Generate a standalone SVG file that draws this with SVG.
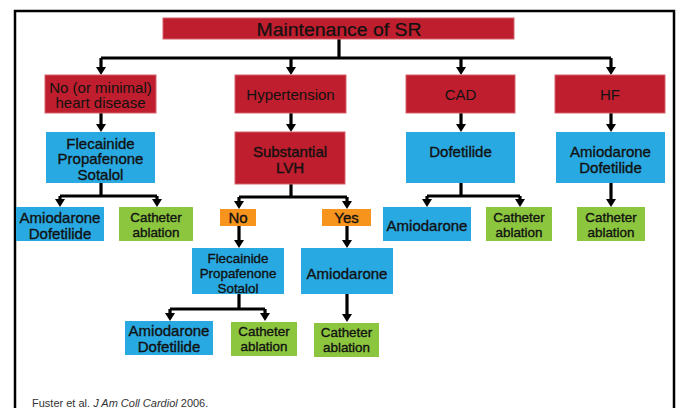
<svg xmlns="http://www.w3.org/2000/svg" width="678" height="408" viewBox="0 0 678 408">
<defs>
<style>
.red{fill:#BE1E2D;stroke:#D4626D;stroke-width:1}
.blue{fill:#29A9E1}
.green{fill:#8CC63F}
.orange{fill:#F7941D}
text{font-family:"Liberation Sans",Arial,sans-serif;font-size:15px;fill:#111;text-anchor:middle}
.b{stroke:#111;stroke-width:0.35}
.s{font-size:13.4px}
.t{font-size:18px;stroke:#111;stroke-width:0.2}
.foot{font-size:11px;fill:#333;text-anchor:start}
.c{fill:none;stroke:#000;stroke-width:3.2}
</style>
<marker id="ah" viewBox="0 0 8 10" refX="1" refY="5" markerWidth="8" markerHeight="10" markerUnits="userSpaceOnUse" orient="auto">
<path d="M0,0 L8,5 L0,10 z" fill="#000"/>
</marker>
</defs>
<rect width="678" height="408" fill="#fff"/>
<path d="M15,408 V11 H674 V408" fill="none" stroke="#000" stroke-width="2.5"/>

<g id="connectors">
<path class="c" d="M339,39 V58" stroke-width="4"/>
<path class="c" d="M101,58 H611"/>
<path class="c" d="M101,58 V68" marker-end="url(#ah)"/>
<path class="c" d="M291,58 V68" marker-end="url(#ah)"/>
<path class="c" d="M461,58 V68" marker-end="url(#ah)"/>
<path class="c" d="M611,58 V68" marker-end="url(#ah)"/>
<path class="c" d="M101,113 V125" marker-end="url(#ah)"/>
<path class="c" d="M291,113 V125" marker-end="url(#ah)"/>
<path class="c" d="M461,113 V125" marker-end="url(#ah)"/>
<path class="c" d="M611,113 V125" marker-end="url(#ah)"/>
<path class="c" d="M101,183 V196" stroke-width="4"/>
<path class="c" d="M60,196 H157"/>
<path class="c" d="M60,196 V200" marker-end="url(#ah)"/>
<path class="c" d="M157,196 V200" marker-end="url(#ah)"/>
<path class="c" d="M291,184 V197" stroke-width="4"/>
<path class="c" d="M239,197 H347"/>
<path class="c" d="M239,197 V202" marker-end="url(#ah)"/>
<path class="c" d="M347,197 V202" marker-end="url(#ah)"/>
<path class="c" d="M239,226 V241" marker-end="url(#ah)"/>
<path class="c" d="M347,226 V241" marker-end="url(#ah)"/>
<path class="c" d="M239,294 V309" stroke-width="4"/>
<path class="c" d="M170,309 H265"/>
<path class="c" d="M170,309 V314" marker-end="url(#ah)"/>
<path class="c" d="M265,309 V314" marker-end="url(#ah)"/>
<path class="c" d="M347,294 V315" marker-end="url(#ah)"/>
<path class="c" d="M461,183 V196" stroke-width="4"/>
<path class="c" d="M427,196 H520"/>
<path class="c" d="M427,196 V200" marker-end="url(#ah)"/>
<path class="c" d="M520,196 V200" marker-end="url(#ah)"/>
<path class="c" d="M611,183 V200" marker-end="url(#ah)"/>
</g>

<g id="title"><rect class="red" x="163" y="18" width="351" height="21"/><text class="t" x="339" y="36" textLength="165" lengthAdjust="spacingAndGlyphs">Maintenance of SR</text></g>

<g id="no-heart-disease"><rect class="red" x="45" y="75" width="111" height="38"/><text x="100.5" y="92.5">No (or minimal)</text><text x="100.5" y="108">heart disease</text></g>
<g id="hypertension"><rect class="red" x="235" y="75" width="111" height="38"/><text x="290.5" y="100">Hypertension</text></g>
<g id="cad"><rect class="red" x="406" y="75" width="109" height="38"/><text x="460.5" y="100">CAD</text></g>
<g id="hf"><rect class="red" x="555" y="75" width="110" height="38"/><text x="610" y="100">HF</text></g>

<g id="flec1"><rect class="blue" x="46" y="132" width="109" height="51"/><text class="b" x="100.5" y="148.5">Flecainide</text><text class="b" x="100.5" y="164">Propafenone</text><text class="b" x="100.5" y="179.5">Sotalol</text></g>
<g id="lvh"><rect class="red" x="235" y="132" width="110" height="52"/><text class="b" x="290" y="157">Substantial</text><text class="b" x="290" y="173">LVH</text></g>
<g id="dofetilide"><rect class="blue" x="406" y="132" width="109" height="51"/><text class="b" x="460.5" y="157">Dofetilide</text></g>
<g id="hf-drugs"><rect class="blue" x="556" y="132" width="109" height="51"/><text class="b" x="610.5" y="157">Amiodarone</text><text class="b" x="610.5" y="173">Dofetilide</text></g>

<g id="amio-dof1"><rect class="blue" x="16" y="207" width="88" height="34"/><text class="b" x="60" y="222.5">Amiodarone</text><text class="b" x="60" y="239">Dofetilide</text></g>
<g id="cath1"><rect class="green" x="119" y="207" width="74" height="34"/><text class="b s" x="156" y="222">Catheter</text><text class="b s" x="156" y="237">ablation</text></g>
<g id="no"><rect class="orange" x="220" y="209" width="36" height="17"/><text class="b" x="238" y="223">No</text></g>
<g id="yes"><rect class="orange" x="322" y="209" width="49" height="17"/><text class="b" x="346.5" y="223">Yes</text></g>
<g id="amio-cad"><rect class="blue" x="383" y="207" width="88" height="34"/><text class="b" x="427" y="231">Amiodarone</text></g>
<g id="cath-cad"><rect class="green" x="486" y="207" width="66" height="34"/><text class="b s" x="519" y="222">Catheter</text><text class="b s" x="519" y="237">ablation</text></g>
<g id="cath-hf"><rect class="green" x="577" y="207" width="68" height="34"/><text class="b s" x="611" y="222">Catheter</text><text class="b s" x="611" y="237">ablation</text></g>

<g id="flec2"><rect class="blue" x="192" y="248" width="92" height="46"/><text class="b s" x="238" y="262.5">Flecainide</text><text class="b s" x="238" y="277.5">Propafenone</text><text class="b s" x="238" y="292.5">Sotalol</text></g>
<g id="amio-yes"><rect class="blue" x="301" y="248" width="92" height="46"/><text class="b" x="347" y="279">Amiodarone</text></g>

<g id="amio-dof2"><rect class="blue" x="125" y="321" width="88" height="34"/><text class="b" x="169" y="336">Amiodarone</text><text class="b" x="169" y="352">Dofetilide</text></g>
<g id="cath2"><rect class="green" x="231" y="322" width="66" height="34"/><text class="b s" x="264" y="336.3">Catheter</text><text class="b s" x="264" y="351.3">ablation</text></g>
<g id="cath3"><rect class="green" x="314" y="323" width="65" height="34"/><text class="b s" x="346.5" y="337">Catheter</text><text class="b s" x="346.5" y="352">ablation</text></g>

<text class="foot" x="32" y="407">Fuster et al. <tspan font-style="italic">J Am Coll Cardiol</tspan> 2006.</text>
</svg>
